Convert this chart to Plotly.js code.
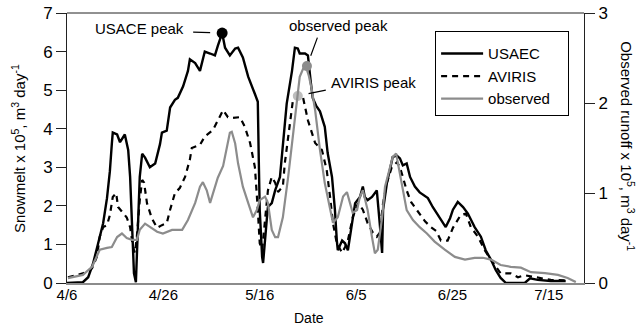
<!DOCTYPE html>
<html>
<head>
<meta charset="utf-8">
<script src="https://cdn.plot.ly/plotly-3.0.1.min.js"></script>
<style>html,body{margin:0;padding:0;background:#fff;}#chart{width:638px;height:329px;}</style>
</head>
<body>
<div id="chart"></div>
<script>
// Days after 4/6
const tickDays = [0, 20, 40, 60, 80, 100];
const tickLabels = ['4/6', '4/26', '5/16', '6/5', '6/25', '7/15'];

// USAEC snowmelt (x10^5 m3/day)
const usaecDays = [0.0,3.3,4.4,5.4,6.4,7.5,8.3,8.9,9.3,9.5,10.4,11.0,12.0,12.7,13.1,13.5,13.9,14.3,14.7,15.1,15.6,16.2,17.2,18.3,19.3,19.7,20.7,21.4,22.4,23.0,24.1,25.1,25.5,26.6,27.6,28.6,29.7,30.7,31.3,32.2,32.8,33.8,34.9,35.5,36.5,37.6,39.0,39.6,39.8,40.0,40.5,40.7,41.5,41.7,42.5,43.2,44.2,44.8,45.6,46.7,47.3,47.9,48.3,49.4,50.0,50.6,51.0,51.7,52.5,53.5,54.1,55.0,55.6,56.0,56.2,57.1,57.7,58.3,59.1,59.8,60.8,61.4,61.8,62.4,63.3,64.3,64.9,65.4,65.6,66.4,67.0,67.6,68.5,69.1,69.7,70.5,71.2,72.2,73.2,74.9,75.9,77.4,78.6,79.5,80.1,81.1,82.2,83.2,84.6,85.9,86.9,88.0,89.0,90.0,91.1,95.0,96.1,97.7,100.4,103.5];
const usaecVals = [0,0.02,0.15,0.5,1.0,1.55,2.2,2.9,3.6,3.9,3.85,3.65,3.85,3.45,2.75,1.45,0.25,0.02,1.45,2.75,3.35,3.25,3.0,3.1,3.6,3.9,3.95,4.55,4.75,4.8,5.1,5.5,5.8,5.7,5.5,6.0,5.95,5.9,6.15,6.48,6.1,5.9,6.08,6.1,5.85,5.35,4.9,4.7,3.2,1.9,0.67,0.52,1.7,1.97,2.07,2.4,2.75,3.6,4.65,5.5,6.1,6.08,5.95,5.95,5.9,5.2,4.8,4.6,4.45,4.05,3.37,2.75,1.9,1.1,0.85,1.1,1.03,0.85,1.45,2.07,2.23,2.5,2.23,2.15,2.23,2.4,1.55,0.78,1.9,2.6,2.93,3.27,3.3,3.23,3.05,3.1,2.75,2.5,2.35,2.2,1.97,1.68,1.45,1.68,1.9,2.1,1.97,1.8,1.45,1.2,0.85,0.6,0.33,0.13,0,0,0.12,0.08,0.05,0.05];

// AVIRIS snowmelt (x10^5 m3/day)
const avirisDays = [0.2,3.3,5.2,6.2,6.8,7.5,8.3,8.9,9.5,10.2,10.6,11.4,12.4,13.1,13.7,14.1,14.5,15.1,15.6,16.0,16.6,17.6,18.7,19.7,20.7,21.4,22.4,23.4,24.5,25.5,25.9,27.6,28.6,30.3,31.3,32.4,33.4,34.4,35.9,36.9,38.0,39.0,39.6,40.0,40.5,41.1,41.7,42.5,43.2,43.8,44.8,45.2,45.9,46.5,46.9,47.7,49.0,50.0,50.6,51.5,52.9,53.9,54.6,55.2,56.0,57.1,57.7,58.3,59.3,60.4,61.4,62.4,63.5,64.3,64.9,65.6,66.4,67.4,68.5,69.1,69.7,70.5,71.4,72.8,74.3,75.5,76.6,77.6,79.0,80.1,81.1,81.7,82.8,83.8,85.3,86.7,88.0,89.0,90.0,92.1,93.6,95.0,97.1,100.4,103.9];
const avirisVals = [0.15,0.25,0.38,0.68,1.2,1.45,1.5,1.76,2.23,2.33,1.97,1.84,1.7,1.45,0.93,0.78,1.2,2.15,2.67,2.6,2.07,1.68,1.43,1.5,1.55,1.9,2.33,2.46,2.75,3.2,3.5,3.58,3.8,3.97,4.22,4.48,4.3,4.28,4.3,4.05,3.63,3.0,1.9,1.03,0.86,1.7,2.4,2.75,2.6,2.36,2.5,3.1,3.8,4.3,4.75,4.88,4.8,4.22,3.97,3.63,3.45,2.93,2.23,1.55,1.03,0.78,0.93,1.1,1.7,2.07,1.9,1.55,1.3,1.2,1.3,2.07,2.6,3.0,3.13,3.0,2.75,2.4,2.1,1.85,1.6,1.45,1.35,1.1,1.1,1.43,1.63,1.76,1.8,1.45,1.2,0.85,0.6,0.42,0.25,0.25,0.15,0.2,0.15,0.08,0.07];

// Observed runoff (x10^5 m3/day), right axis
const obsDays = [0.2,3.3,5.2,6.2,6.8,8.3,9.3,10.4,11.4,12.4,13.5,14.5,15.1,16.2,17.2,18.7,19.9,21.8,23.9,25.1,26.6,27.6,28.2,29.0,29.7,30.3,31.3,32.4,33.2,33.8,34.2,34.9,35.5,36.5,37.6,38.6,39.4,40.0,41.1,41.7,42.5,43.2,43.8,44.8,45.9,46.9,47.7,48.3,49.0,49.6,50.2,50.8,51.5,52.5,53.5,54.6,55.2,56.2,57.3,58.1,58.7,59.3,60.2,60.8,61.4,62.4,63.3,63.9,64.5,65.4,66.0,67.0,67.6,68.3,68.7,69.5,70.5,71.8,73.2,74.7,76.3,78.4,80.5,82.6,84.6,86.3,88.0,90.0,92.1,94.2,96.3,99.2,101.9,103.9,105.6];
const obsVals = [0.055,0.09,0.18,0.29,0.37,0.39,0.4,0.51,0.55,0.5,0.48,0.48,0.59,0.66,0.62,0.57,0.55,0.59,0.59,0.7,0.89,1.07,1.12,1.03,0.89,1.0,1.17,1.3,1.5,1.67,1.68,1.55,1.33,1.07,0.89,0.73,0.81,0.92,0.96,0.89,0.59,0.51,0.51,0.73,1.18,1.67,2.03,2.29,2.38,2.4,2.3,2.15,1.92,1.48,1.11,0.81,0.67,0.73,0.96,1.01,0.89,0.78,0.81,0.96,1.03,0.81,0.51,0.33,0.37,0.73,1.07,1.29,1.4,1.44,1.33,1.07,0.81,0.7,0.62,0.55,0.46,0.37,0.29,0.26,0.28,0.28,0.26,0.2,0.18,0.17,0.12,0.11,0.09,0.055,0.01];

// Peaks
const usacePeakDay = [32.2], usacePeakVal = [6.48];
const avirisPeakDay = [47.9], avirisPeakVal = [4.85];
const obsPeakDay = [49.8], obsPeakVal = [2.41];

const FONT = 'Liberation Sans, Arial, Helvetica, sans-serif';

const traces = [
  {x: usaecDays, y: usaecVals, type: 'scatter', mode: 'lines', name: 'USAEC',
   line: {color: '#000', width: 2.4}},
  {x: avirisDays, y: avirisVals, type: 'scatter', mode: 'lines', name: 'AVIRIS',
   line: {color: '#000', width: 2.2, dash: '6px,5px'}},
  {x: obsDays, y: obsVals, type: 'scatter', mode: 'lines', name: 'observed\u00a0\u00a0\u00a0', yaxis: 'y2',
   line: {color: '#8c8c8c', width: 2.2}},
  {x: usacePeakDay, y: usacePeakVal, type: 'scatter', mode: 'markers', showlegend: false,
   marker: {color: '#000', size: 11}},
  {x: avirisPeakDay, y: avirisPeakVal, type: 'scatter', mode: 'markers', showlegend: false,
   marker: {color: '#bdbdbd', size: 10}},
  {x: obsPeakDay, y: obsPeakVal, type: 'scatter', mode: 'markers', showlegend: false, yaxis: 'y2',
   marker: {color: '#8c8c8c', size: 10}}
];

const arrowBase = {text: ' ', showarrow: true, arrowhead: 0, arrowwidth: 1.2, arrowcolor: '#000',
  font: {size: 2}, borderpad: 0, xanchor: 'center', yanchor: 'middle'};
const txt = (x, y, text, size, angle) => ({xref: 'paper', yref: 'paper', x: x, y: y, text: text,
  showarrow: false, xanchor: 'center', yanchor: 'middle', textangle: angle || 0,
  font: {family: FONT, size: size, color: '#000'}});

const layout = {
  width: 638, height: 329,
  margin: {l: 67, r: 54, t: 13, b: 46, pad: 0},
  paper_bgcolor: '#fff', plot_bgcolor: '#fff',
  font: {family: FONT, size: 15, color: '#000'},
  showlegend: true,
  legend: {x: 0.712, y: 0.933, xanchor: 'left', yanchor: 'top',
    bordercolor: '#000', borderwidth: 1, bgcolor: '#fff', itemwidth: 42,
    title: {text: ' ', font: {size: 4}},
    font: {family: FONT, size: 15, color: '#000'}},
  xaxis: {range: [0, 107.3], tickvals: tickDays, ticktext: tickLabels,
    showgrid: false, zeroline: false, showline: true, linecolor: '#8c8c8c', linewidth: 2,
    ticks: '', ticklabelstandoff: -3, tickfont: {family: FONT, size: 15}},
  yaxis: {range: [0, 7], dtick: 1, showgrid: false, zeroline: false,
    showline: true, linecolor: '#222', linewidth: 1,
    ticks: 'outside', ticklen: 10, tickcolor: '#222', tickwidth: 1,
    tickfont: {family: FONT, size: 17}},
  yaxis2: {range: [0, 3], dtick: 1, overlaying: 'y', side: 'right',
    showgrid: false, zeroline: false, showline: true, linecolor: '#222', linewidth: 1,
    ticks: 'outside', ticklen: 10, tickcolor: '#222', tickwidth: 1,
    tickfont: {family: FONT, size: 17}},
  shapes: [
    {type: 'line', xref: 'paper', yref: 'paper', x0: 0, x1: 1, y0: 1, y1: 1,
     line: {color: '#222', width: 1}}
  ],
  annotations: [
    txt(-0.095, 0.5, 'Snowmelt x 10<sup>5</sup>, m<sup>3</sup> day<sup>-1</sup>', 15, -90),
    txt(1.085, 0.507, 'Observed runoff x 10<sup>5</sup>, m<sup>3</sup> day<sup>-1</sup>', 15, 90),
    txt(0.468, -0.13, 'Date', 14),
    txt(0.141, 0.941, 'USACE peak', 15),
    txt(0.526, 0.952, 'observed peak', 15),
    txt(0.592, 0.744, 'AVIRIS peak', 15),
    Object.assign({}, arrowBase, {xref: 'x', yref: 'y', x: usacePeakDay[0], y: usacePeakVal[0], ax: -30, ay: -1, standoff: 12}),
    Object.assign({}, arrowBase, {xref: 'x', yref: 'y2', x: obsPeakDay[0], y: obsPeakVal[0], ax: 11, ay: -30, standoff: 11}),
    Object.assign({}, arrowBase, {xref: 'x', yref: 'y', x: avirisPeakDay[0], y: avirisPeakVal[0], ax: 29, ay: -6, standoff: 11})
  ]
};

Plotly.newPlot('chart', traces, layout, {displayModeBar: false, staticPlot: true});
</script>
</body>
</html>
